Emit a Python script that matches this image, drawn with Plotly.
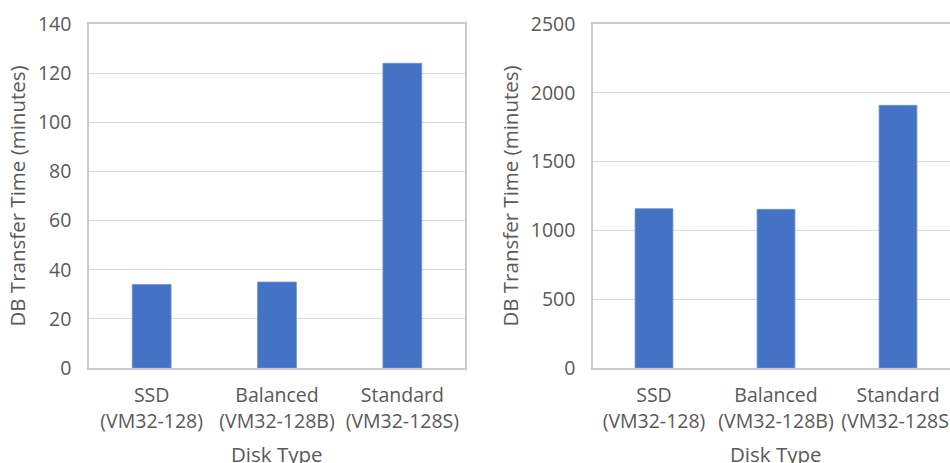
import plotly.graph_objects as go
from plotly.subplots import make_subplots

# Transfer time per disk type for two database sizes
disk_types = ["SSD<br>(VM32-128)", "Balanced<br>(VM32-128B)", "Standard<br>(VM32-128S)"]
small_db_minutes = [34, 35, 124]
large_db_minutes = [1158, 1153, 1909]

y_ticks_left = [0, 20, 40, 60, 80, 100, 120, 140]
y_ticks_right = [0, 500, 1000, 1500, 2000, 2500]

BAR = "#4472C4"
TEXT = "#595959"
GRID = "#d9d9d9"
FRAME = "#c9c9c9"
FONT = "Open Sans, sans-serif"

fig = make_subplots(rows=1, cols=2)

fig.add_trace(go.Bar(x=disk_types, y=small_db_minutes, marker_color=BAR,
                     marker_line=dict(color="#6f93d6", width=0.8), width=0.31),
              row=1, col=1)
fig.add_trace(go.Bar(x=disk_types, y=large_db_minutes, marker_color=BAR,
                     marker_line=dict(color="#6f93d6", width=0.8), width=0.31),
              row=1, col=2)

W, H = 950, 463
TOP, BOTTOM = 24, 95
plot_h = H - TOP - BOTTOM

# panel geometry in pixels
left_x0, left_x1 = 89, 465
right_x0, right_cat = 593, 122.0       # right panel runs past the page edge
right_full_x1 = right_x0 + 3 * right_cat

tick_font = dict(family=FONT, size=19.5, color=TEXT)
title_font = dict(family=FONT, size=20.5, color=TEXT)

fig.update_layout(
    width=W, height=H,
    margin=dict(l=0, r=0, t=TOP, b=BOTTOM),
    paper_bgcolor="white", plot_bgcolor="white",
    showlegend=False,
    font=dict(family=FONT, color=TEXT, size=19.5),
)

fig.update_xaxes(
    tickfont=tick_font, showgrid=False, ticks="",
    ticklabelstandoff=9, automargin=False,
    showline=True, linecolor=FRAME, linewidth=1.5, mirror=True,
)
fig.update_xaxes(domain=[left_x0 / W, left_x1 / W], range=[-0.5, 2.5], row=1, col=1)
fig.update_xaxes(domain=[right_x0 / W, 1.0],
                 range=[-0.5, -0.5 + (W - right_x0) / right_cat], row=1, col=2)

fig.update_yaxes(
    title=dict(text="DB Transfer Time (minutes)", font=title_font, standoff=7),
    tickfont=tick_font, showgrid=True, gridcolor=GRID, gridwidth=1.2,
    showline=True, linecolor=FRAME, linewidth=1.5, ticks="",
    ticklabelstandoff=12, zeroline=False, automargin=False,
)
fig.update_yaxes(range=[0, 140], tickvals=y_ticks_left, mirror=True, row=1, col=1)
fig.update_yaxes(range=[0, 2500], tickvals=y_ticks_right, mirror=False, row=1, col=2)

# x-axis titles centred under each full panel
title_y = -(438 - (TOP + plot_h)) / plot_h
for cx in [(left_x0 + left_x1) / 2, (right_x0 + right_full_x1) / 2]:
    fig.add_annotation(text="Disk Type", x=cx / W, y=title_y, xref="paper", yref="paper",
                       xanchor="center", yanchor="top", showarrow=False, font=title_font)

fig.write_html("out.html")
